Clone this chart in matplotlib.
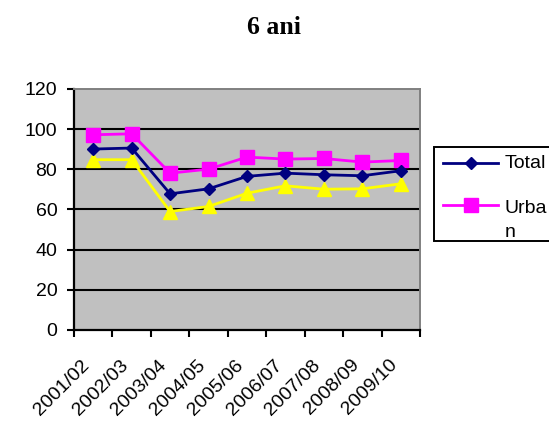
import matplotlib
matplotlib.use("Agg")
import matplotlib.pyplot as plt
from matplotlib.lines import Line2D
from matplotlib.patches import Rectangle
from matplotlib.transforms import ScaledTranslation
import numpy as np

categories = ["2001/02", "2002/03", "2003/04", "2004/05", "2005/06",
              "2006/07", "2007/08", "2008/09", "2009/10"]
total = [90.1, 90.6, 67.8, 70.3, 76.5, 78.1, 77.3, 76.8, 79.3]
urban = [97.2, 97.7, 78.1, 80.1, 86.1, 85.1, 85.4, 83.6, 84.4]
rural = [84.8, 84.8, 59.0, 61.5, 68.1, 71.8, 70.1, 70.3, 72.8]
yticks = [0, 20, 40, 60, 80, 100, 120]

plt.rcParams['font.family'] = ['Liberation Sans', 'DejaVu Sans']
FS = 14

W, H = 549, 421
fig = plt.figure(figsize=(W / 100, H / 100), dpi=100)
ax = fig.add_axes([74 / W, 1 - 330 / H, (420 - 74) / W, (330 - 89) / H])
ax.set_facecolor('#C0C0C0')

x = np.arange(len(categories))
ax.plot(x, total, color='#000080', lw=2.0, marker='D', ms=6.5, zorder=4)
ax.plot(x, urban, color='#FF00FF', lw=2.0, marker='s', ms=9.5, zorder=3)
ax.plot(x, rural, color='#FFFF00', lw=2.0, marker='^', ms=9.5, zorder=2)

ax.set_xlim(-0.5, len(categories) - 0.5)
ax.set_ylim(0, 120)
ax.set_yticks(yticks)
ax.set_yticklabels([str(v) for v in yticks], fontsize=FS)
for v in yticks[1:-1]:
    ax.axhline(v, color='black', lw=1.5, zorder=1)

ax.set_xticks(np.arange(-0.5, len(categories), 1.0))
ax.set_xticklabels([])
ax.set_xticks(x, minor=True)
ax.set_xticklabels(categories, minor=True, rotation=45, ha='right', va='top',
                   rotation_mode='anchor', fontsize=FS)
ax.tick_params(axis='x', which='minor', length=0, pad=19)
ax.tick_params(axis='x', which='major', length=5, width=1.5, direction='out')
ax.tick_params(axis='y', length=5, width=1.5, direction='out', pad=7)
off = ScaledTranslation(-12 / 100, 0, fig.dpi_scale_trans)
for lab in ax.get_xticklabels(minor=True):
    lab.set_transform(lab.get_transform() + off)

for s in ['left', 'bottom']:
    ax.spines[s].set_color('black')
    ax.spines[s].set_linewidth(1.6)
for s in ['top', 'right']:
    ax.spines[s].set_color('#808080')
    ax.spines[s].set_linewidth(1.4)

fig.text(274 / W, 1 - 27 / H, "6 ani", ha='center', va='center',
         fontsize=18.5, fontweight='bold', family=['Liberation Serif', 'DejaVu Serif'])

# legend (clipped by figure edge as in reference)
tf = fig.transFigure
fig.add_artist(Rectangle((434 / W, 1 - 241 / H), (600 - 434) / W, (241 - 147) / H,
                         transform=tf, facecolor='white', edgecolor='black', lw=1.4))
entries = [('#000080', 'D', 6.5, 163, [("Total", 168)]),
           ('#FF00FF', 's', 9.5, 205, [("Urba", 213), ("n", 237)])]
for col, mk, ms, yy, lines in entries:
    fig.add_artist(Line2D([443 / W, 498 / W], [1 - yy / H, 1 - yy / H], transform=tf,
                          color=col, lw=2.0))
    fig.add_artist(Line2D([470.5 / W], [1 - yy / H], transform=tf, color=col,
                          marker=mk, ms=ms, lw=0))
    for txt, base in lines:
        fig.text(505 / W, 1 - base / H, txt, ha='left', va='baseline', fontsize=FS)

fig.savefig("out.png", dpi=100)
